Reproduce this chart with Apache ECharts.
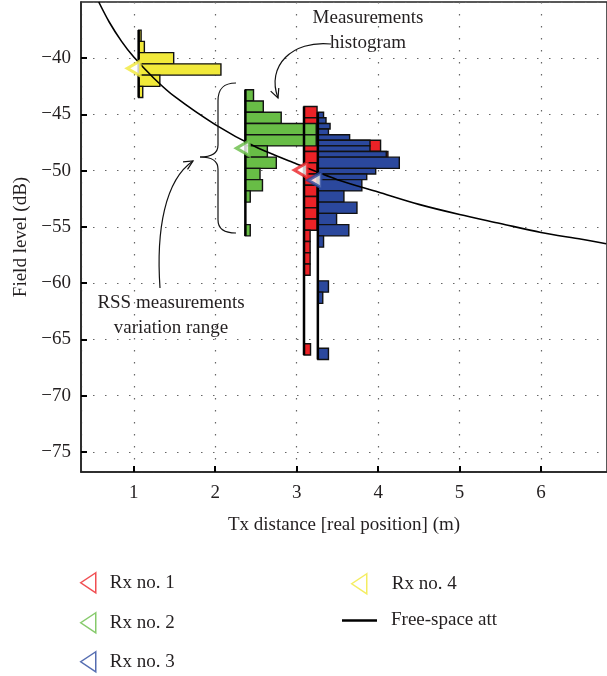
<!DOCTYPE html>
<html>
<head>
<meta charset="utf-8">
<script src="https://cdn.jsdelivr.net/npm/echarts@6/dist/echarts.min.js"></script>
<style>
html,body{margin:0;padding:0;background:#fff;}
#main{width:607px;height:676px;}
</style>
</head>
<body>
<div id="main"></div>
<script>
// receivers
var rxNames = ['Rx no. 1', 'Rx no. 2', 'Rx no. 3', 'Rx no. 4'];
var rxColors = ['#ec2227', '#68bd46', '#2b489d', '#f1e93a'];
var rxBase = [3.09, 2.37, 3.26, 1.06];      // real position (m)
var rxMeanX = [3.05, 2.34, 3.22, 1.0];     // mean RSS marker
var rxMeanY = [-49.95, -48.0, -50.85, -40.9];

// histograms: bin centre (dB), bar length (m), bin height (dB)
var rx1Levels = [-44.8, -45.8, -46.8, -47.8, -48.8, -49.8, -50.8, -51.8, -52.8, -53.8, -54.8, -55.8, -56.8, -57.8, -58.8, -65.9];
var rx1Counts = [0.16, 0.16, 0.16, 0.94, 1.03, 0.16, 0.16, 0.16, 0.16, 0.16, 0.16, 0.075, 0.075, 0.075, 0.075, 0.08];

var rx2Levels = [-43.3, -44.3, -45.3, -46.3, -47.3, -48.3, -49.3, -50.3, -51.3, -52.3, -55.3];
var rx2Counts = [0.10, 0.22, 0.44, 0.87, 0.87, 0.27, 0.38, 0.18, 0.21, 0.06, 0.06];

var rx3Levels = [-45.05, -45.55, -46.05, -46.55, -47.05, -47.55, -48.05, -48.55, -49.3, -50.05, -50.55, -51.3, -52.3, -53.3, -54.3, -55.3, -56.3, -60.3, -61.3, -66.3];
var rx3Counts = [0.07, 0.10, 0.15, 0.13, 0.39, 0.64, 0.64, 0.84, 1.00, 0.71, 0.60, 0.54, 0.32, 0.48, 0.23, 0.38, 0.07, 0.13, 0.06, 0.13];
var rx3Widths = [0.5, 0.5, 0.5, 0.5, 0.5, 0.5, 0.5, 0.5, 1, 0.5, 0.5, 1, 1, 1, 1, 1, 1, 1, 1, 1];

var rx4Levels = [-38, -39, -40, -41, -42, -43];
var rx4Counts = [0.03, 0.07, 0.43, 1.01, 0.26, 0.05];

// free-space attenuation
var fsX = [0.57, 0.7, 0.85, 1.0, 1.25, 1.5, 2.0, 2.5, 3.0, 3.5, 4.0, 4.5, 5.0, 5.5, 6.0, 6.5, 6.8];
var fsY = [-35.0, -36.8, -38.5, -39.9, -41.8, -43.4, -45.9, -47.9, -49.4, -50.8, -51.9, -53.0, -53.9, -54.7, -55.5, -56.1, -56.5];

var FONT = 'Liberation Serif';
var INK = '#231f20';
var triPath = 'path://M15,0 L0,10 L15,20 Z';

var chart = echarts.init(document.getElementById('main'));

function histSeries(i, levels, counts, widths) {
  var base = rxBase[i];
  var data = levels.map(function (lv, k) {
    return [counts[k], lv, widths ? widths[k] : 1];
  });
  return {
    type: 'custom',
    silent: true,
    data: data,
    encode: { x: 0, y: 1 },
    renderItem: function (params, api) {
      var len = api.value(0), lv = api.value(1), w = api.value(2);
      var p0 = api.coord([base, lv + w / 2]);
      var p1 = api.coord([base + len, lv - w / 2]);
      return {
        type: 'rect',
        shape: { x: p0[0], y: p0[1], width: p1[0] - p0[0], height: p1[1] - p0[1] },
        style: { fill: rxColors[i], stroke: '#111', lineWidth: 1.4 }
      };
    }
  };
}

function baseSeries(i, levels, widths) {
  var top = -1000, bot = 1000;
  levels.forEach(function (lv, k) {
    var w = widths ? widths[k] : 1;
    top = Math.max(top, lv + w / 2);
    bot = Math.min(bot, lv - w / 2);
  });
  return {
    type: 'line', silent: true, symbol: 'none',
    data: [[rxBase[i], top], [rxBase[i], bot]],
    lineStyle: { color: '#000', width: 2.5 }
  };
}

function markerSeries(i) {
  return {
    type: 'scatter', name: rxNames[i], silent: true,
    symbol: 'triangle', symbolRotate: 90, symbolSize: [15, 13],
    data: [[rxMeanX[i], rxMeanY[i]]],
    itemStyle: { color: '#fff', borderColor: rxColors[i], borderWidth: 3 },
    z: 5
  };
}

var labelStyle = { color: INK, fontFamily: FONT, fontSize: 19 };

// one legend box per entry, so the two columns sit where they should
function rxLegend(i, left, top, gap) {
  return {
    left: left, top: top, padding: 0, itemWidth: 15, itemHeight: 20, selectedMode: false,
    textStyle: Object.assign({ padding: [0, 0, 0, gap] }, labelStyle),
    data: [{ name: rxNames[i], icon: triPath,
      itemStyle: { color: 'rgba(0,0,0,0)', borderColor: rxColors[i], borderWidth: 1.5 } }]
  };
}

var dotted = { color: '#666', width: 1.2, type: [1.5, 10.5] };

var option = {
  animation: false,
  backgroundColor: '#fff',
  grid: { left: 81, top: 2, right: -3, bottom: 204, show: true, borderColor: '#222', borderWidth: 1.5 },
  xAxis: {
    type: 'value', min: 0.352, max: 6.81, minInterval: 1, maxInterval: 1,
    name: 'Tx distance [real position] (m)', nameLocation: 'middle', nameGap: 44,
    nameTextStyle: labelStyle,
    axisLine: { lineStyle: { color: '#222', width: 1.5 } },
    axisTick: { inside: true, length: 6, lineStyle: { color: '#000', width: 2 } },
    axisLabel: Object.assign({ margin: 12, showMinLabel: false, showMaxLabel: false }, labelStyle),
    splitLine: { show: true, lineStyle: dotted }
  },
  yAxis: {
    type: 'value', min: -76.8, max: -35, minInterval: 5, maxInterval: 5,
    name: 'Field level (dB)', nameLocation: 'middle', nameGap: 50,
    nameTextStyle: labelStyle,
    axisLine: { lineStyle: { color: '#222', width: 1.5 } },
    axisTick: { inside: true, length: 6, lineStyle: { color: '#000', width: 2 } },
    axisLabel: Object.assign({
      margin: 10, showMinLabel: false, showMaxLabel: false,
      formatter: function (v) { return (v < 0 ? '\u2212' : '') + Math.abs(v); }
    }, labelStyle),
    splitLine: { show: true, lineStyle: dotted }
  },
  legend: [
    rxLegend(0, 80, 572, 9),
    rxLegend(1, 80, 612, 9),
    rxLegend(2, 80, 651, 9),
    rxLegend(3, 351, 573, 20),
    { left: 342, top: 611, padding: 0, itemWidth: 35, itemHeight: 2.5, selectedMode: false,
      textStyle: Object.assign({ padding: [0, 0, 0, 9] }, labelStyle),
      data: [{ name: 'Free-space att', icon: 'rect', itemStyle: { color: '#000' } }] }
  ],
  series: [
    histSeries(3, rx4Levels, rx4Counts),
    baseSeries(3, rx4Levels),
    histSeries(0, rx1Levels, rx1Counts),
    baseSeries(0, rx1Levels),
    histSeries(1, rx2Levels, rx2Counts),
    baseSeries(1, rx2Levels),
    histSeries(2, rx3Levels, rx3Counts, rx3Widths),
    baseSeries(2, rx3Levels, rx3Widths),
    {
      type: 'line', name: 'Free-space att', silent: true, symbol: 'none', smooth: 0.3,
      data: fsX.map(function (x, k) { return [x, fsY[k]]; }),
      itemStyle: { color: '#000' },
      lineStyle: { color: '#000', width: 1.6 }, z: 4
    },
    markerSeries(0), markerSeries(1), markerSeries(2), markerSeries(3)
  ]
};

// annotations: arrows, brace and text
function arrowHead(tip, from) {
  var a = Math.atan2(tip[1] - from[1], tip[0] - from[0]), L = 10, s = 0.45;
  return [[tip[0] - L * Math.cos(a - s), tip[1] - L * Math.sin(a - s)], tip,
          [tip[0] - L * Math.cos(a + s), tip[1] - L * Math.sin(a + s)]];
}
var ink = { stroke: '#111', lineWidth: 1.2, fill: null };
function txt(s, x, y) {
  return { type: 'text', z: 10, style: { text: s, x: x, y: y, fill: INK, font: '19px "' + FONT + '"', align: 'center', verticalAlign: 'middle' } };
}
function bez(x1, y1, c1x, c1y, c2x, c2y, x2, y2) {
  return { type: 'bezierCurve', z: 10, shape: { x1: x1, y1: y1, cpx1: c1x, cpy1: c1y, cpx2: c2x, cpy2: c2y, x2: x2, y2: y2 }, style: ink };
}
function seg(x1, y1, x2, y2) {
  return { type: 'line', z: 10, shape: { x1: x1, y1: y1, x2: x2, y2: y2 }, style: ink };
}
option.graphic = [
  txt('Measurements', 368, 18),
  txt('histogram', 368, 43),
  bez(331, 44, 292, 40, 266, 66, 278, 98),
  { type: 'polyline', z: 10, shape: { points: arrowHead([278, 98], [271, 80]) }, style: ink },
  // brace
  bez(236, 83, 224, 83, 218, 88, 218, 101),
  seg(218, 101, 218, 145),
  bez(218, 145, 218, 153, 212, 157, 200, 157),
  bez(200, 157, 212, 157, 218, 161, 218, 169),
  seg(218, 169, 218, 220),
  bez(218, 220, 218, 228, 224, 233, 236, 233),
  bez(160, 288, 156, 230, 165, 180, 193, 161),
  { type: 'polyline', z: 10, shape: { points: arrowHead([193, 161], [178, 170]) }, style: ink },
  txt('RSS measurements', 171, 303),
  txt('variation range', 171, 328)
];

chart.setOption(option);
</script>
</body>
</html>
